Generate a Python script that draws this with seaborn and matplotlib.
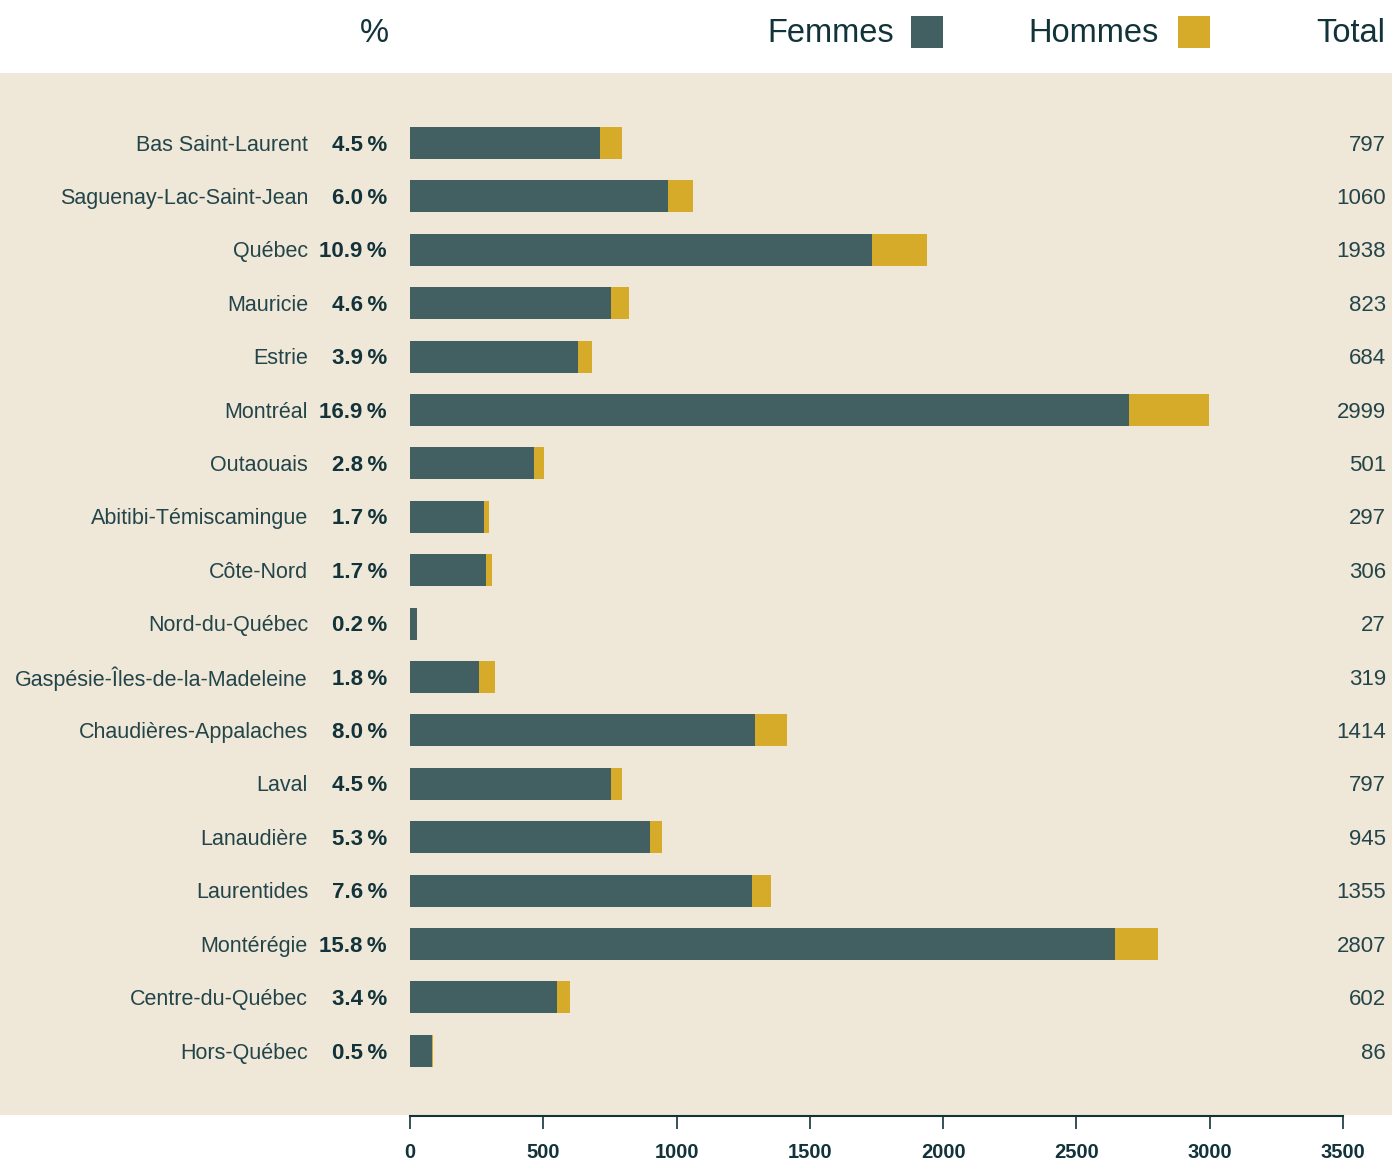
import matplotlib
matplotlib.use("Agg")
import matplotlib.pyplot as plt
import matplotlib.transforms as mtransforms
from matplotlib.patches import Rectangle
import pandas as pd
import seaborn as sns

# Données
regions = ["Bas Saint-Laurent", "Saguenay-Lac-Saint-Jean", "Québec", "Mauricie", "Estrie",
           "Montréal", "Outaouais", "Abitibi-Témiscamingue", "Côte-Nord", "Nord-du-Québec",
           "Gaspésie-Îles-de-la-Madeleine", "Chaudières-Appalaches", "Laval", "Lanaudière",
           "Laurentides", "Montérégie", "Centre-du-Québec", "Hors-Québec"]
femmes = [712, 967, 1733, 754, 630, 2697, 465, 277, 285, 26, 258, 1294, 754, 900, 1283, 2644, 551, 83]
hommes = [85, 93, 205, 69, 54, 302, 36, 20, 21, 1, 61, 120, 43, 45, 72, 163, 51, 3]
pourcentages = [4.5, 6.0, 10.9, 4.6, 3.9, 16.9, 2.8, 1.7, 1.7, 0.2, 1.8, 8.0, 4.5, 5.3, 7.6, 15.8, 3.4, 0.5]
x_ticks = [0, 500, 1000, 1500, 2000, 2500, 3000, 3500]

df = pd.DataFrame({"region": regions, "femmes": femmes, "hommes": hommes, "pct": pourcentages})
df["total"] = df["femmes"] + df["hommes"]

C_FEMMES = "#426061"
C_HOMMES = "#d5ab29"
C_FOND = "#efe7d8"
C_TEXTE = "#12333a"
C_LABEL = "#23454a"

sns.set_style("white")
plt.rcParams["font.family"] = ["Liberation Sans", "DejaVu Sans"]

W, H = 1392, 1162
fig = plt.figure(figsize=(W / 100, H / 100), dpi=100)

# bande beige (derrière les axes)
fig.patches.append(Rectangle((0, 1 - 1115 / H), 1, (1115 - 73) / H, transform=fig.transFigure,
                             facecolor=C_FOND, edgecolor="none", zorder=-5))

ax = fig.add_axes([410 / W, 1 - 1115.5 / H, (1343 - 410) / W, (1115.5 - 73) / H])
ax.patch.set_alpha(0)

# barres empilées : total (hommes) derrière, femmes devant
sns.barplot(data=df, x="total", y="region", color=C_HOMMES, width=0.6, ax=ax,
            saturation=1, orient="h", edgecolor="none", linewidth=0)
sns.barplot(data=df, x="femmes", y="region", color=C_FEMMES, width=0.6, ax=ax,
            saturation=1, orient="h", edgecolor="none", linewidth=0)

ax.set_xlim(0, 3500)
ax.set_ylim(18.21, -1.31)
ax.set_xticks(x_ticks)
ax.set_xticklabels([str(t) for t in x_ticks], fontweight="bold", fontsize=14.5, color=C_TEXTE)
ax.set_yticks([])
ax.set_xlabel("")
ax.set_ylabel("")
for s in ["top", "right", "left"]:
    ax.spines[s].set_visible(False)
ax.spines["bottom"].set_color(C_TEXTE)
ax.spines["bottom"].set_linewidth(1.5)
ax.tick_params(axis="x", bottom=True, direction="out", length=9, width=1.2, color=C_TEXTE, pad=11)

# étiquettes à gauche et totaux à droite
trans = mtransforms.blended_transform_factory(fig.transFigure, ax.transData)
for i, row in df.iterrows():
    y = i + 0.04
    ax.text(308 / W, y, row["region"], transform=trans, ha="right", va="center",
            fontsize=15.5, color=C_LABEL)
    ax.text(387 / W, y, f"{row['pct']:.1f}\u2009%", transform=trans, ha="right", va="center",
            fontsize=16, fontweight="bold", color=C_TEXTE)
    ax.text(1386 / W, y, f"{row['total']}", transform=trans, ha="right", va="center",
            fontsize=16, color=C_LABEL)

# en-tête
yh = 1 - 33 / H
fig.text(374.5 / W, yh, "%", ha="center", va="center", fontsize=23.5, color=C_TEXTE)
fig.text(894 / W, yh, "Femmes", ha="right", va="center", fontsize=23.5, color=C_TEXTE)
fig.text(1159 / W, yh, "Hommes", ha="right", va="center", fontsize=23.5, color=C_TEXTE)
fig.text(1385 / W, yh, "Total", ha="right", va="center", fontsize=23.5, color=C_TEXTE)
fig.patches.append(Rectangle((911 / W, 1 - 48 / H), 32 / W, 32 / H, transform=fig.transFigure,
                             facecolor=C_FEMMES, edgecolor="none"))
fig.patches.append(Rectangle((1178 / W, 1 - 48 / H), 32 / W, 32 / H, transform=fig.transFigure,
                             facecolor=C_HOMMES, edgecolor="none"))

fig.savefig("out.png", dpi=100, facecolor="white")
